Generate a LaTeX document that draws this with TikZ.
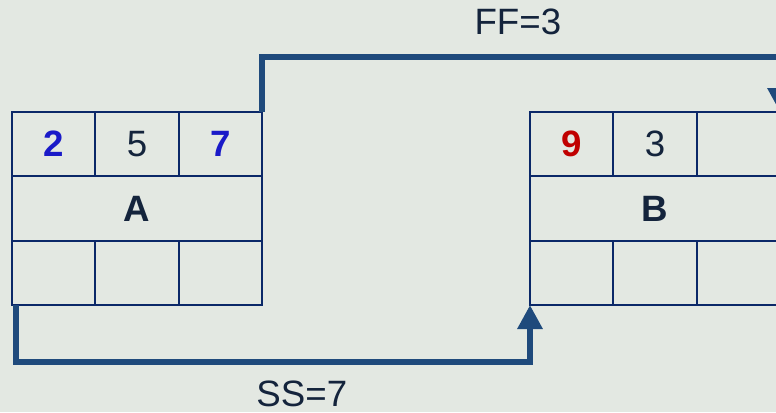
\documentclass[tikz,border=0pt]{standalone}
\usepackage{fontspec}
\setmainfont{Liberation Sans}
\usetikzlibrary{positioning,arrows.meta}
\definecolor{bg}{HTML}{E3E8E2}
\definecolor{boxline}{HTML}{0B2868}
\definecolor{linkblue}{HTML}{1F4A7C}
\definecolor{early}{HTML}{1A1AC8}
\definecolor{late}{HTML}{C00000}
\definecolor{ink}{HTML}{14243C}
\tikzset{>={Triangle[width=18pt,length=18pt]}}

\begin{document}
\begin{tikzpicture}[x=0.75pt,y=-0.75pt,node distance=0pt,
  cell/.style={draw=boxline,line width=1.5pt,minimum width=62.5pt,minimum height=48.25pt,
    inner sep=0pt,outer sep=0pt,text=ink,font=\fontsize{27.5}{30}\selectfont},
  wide/.style={cell,minimum width=187.5pt},
  dep/.style={->,draw=linkblue,line width=4.5pt},
  lbl/.style={inner sep=0pt,text=ink,font=\fontsize{27.5}{30}\selectfont}]
\fill[bg] (0,0) rectangle (776,412);
\clip (0,0) rectangle (776,412);
% activity A
\node[cell,anchor=north west] (a1) at (12,112) {\textbf{\textcolor{early}{2}}};
\node[cell,right=of a1] (a2) {5};
\node[cell,right=of a2] (a3) {\textbf{\textcolor{early}{7}}};
\node[wide,anchor=north west] (aname) at (a1.south west) {\textbf{A}};
\node[cell,anchor=north west] (a4) at (aname.south west) {};
\node[cell,right=of a4] (a5) {};
\node[cell,right=of a5] (a6) {};
% activity B
\node[cell,anchor=north west] (b1) at (530,112) {\textbf{\textcolor{late}{9}}};
\node[cell,right=of b1] (b2) {3};
\node[cell,right=of b2] (b3) {};
\node[wide,anchor=north west] (bname) at (b1.south west) {\textbf{B}};
\node[cell,anchor=north west] (b4) at (bname.south west) {};
\node[cell,right=of b4] (b5) {};
\node[cell,right=of b5] (b6) {};
% links
\draw[dep] (a3.north east) -- ++(0,-55) -| node[lbl,pos=0.247,above=14pt] {FF=3} (b3.north east);
\draw[dep] ([xshift=3pt]a4.south west) -- ++(0,57) -| node[lbl,pos=0.278,below=12pt] {SS=7} (b4.south west);
\end{tikzpicture}
\end{document}
